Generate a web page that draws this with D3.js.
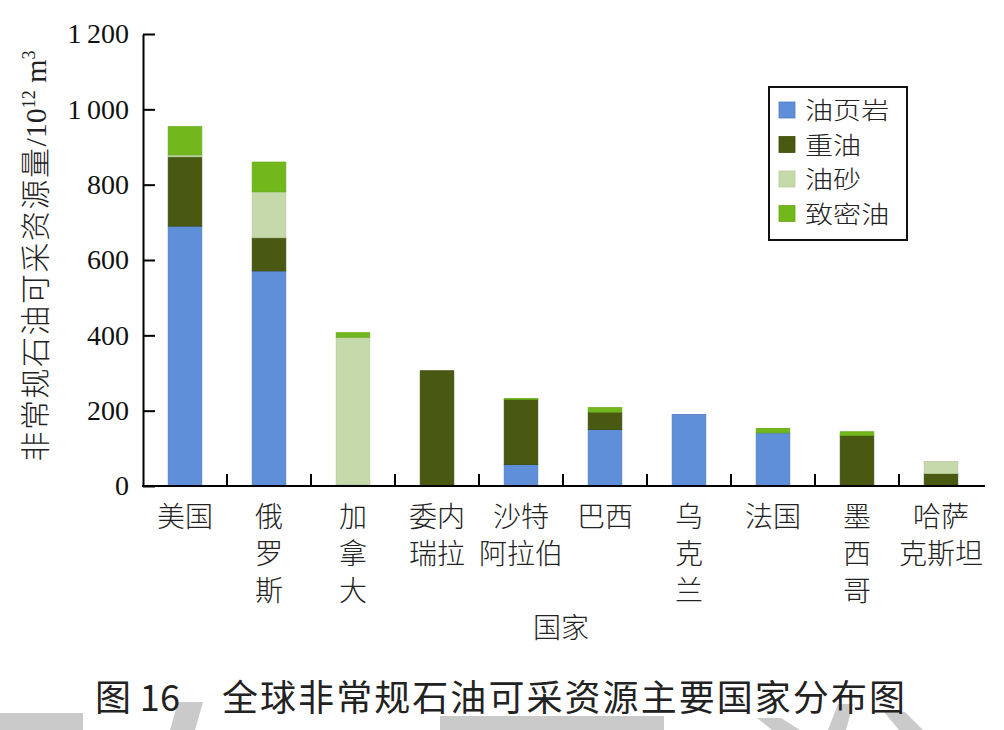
<!DOCTYPE html>
<html><head><meta charset="utf-8">
<script src="https://cdn.jsdelivr.net/npm/d3@7"></script>
<style>
html,body{margin:0;padding:0;background:#fff;}
svg{display:block;}
</style></head>
<body>
<script>
const countries = ["美国","俄罗斯","加拿大","委内瑞拉","沙特阿拉伯","巴西","乌克兰","法国","墨西哥","哈萨克斯坦"];
const countryLines = [["美国"],["俄","罗","斯"],["加","拿","大"],["委内","瑞拉"],["沙特","阿拉伯"],["巴西"],["乌","克","兰"],["法国"],["墨","西","哥"],["哈萨","克斯坦"]];
const seriesNames = ["油页岩","重油","油砂","致密油"];
const shale = [690,571,3,0,57,150,190,141,0,0];
const heavy = [184,88,0,306,173,46,0,0,134,33];
const sand  = [5,122,392,0,0,0,0,0,0,32];
const tight = [75,79,12,0,2,12,0,12,10,0];
const yTicks = [0,200,400,600,800,1000,1200];
const colors = ["#5f8fd9","#4a5912","#c6d9aa","#72b81c"];
const strokes = ["#4f7cc2","#3c4a0c","#b8cc9c","#66a818"];

const W=1004,H=730;
const svg=d3.select("body").append("svg").attr("width",W).attr("height",H);

// faint watermark shapes at the bottom edge (decorative)
const wm=svg.append("g").attr("fill","#cacaca");
[[[0,713],[83,713],[83,730],[0,730]],
 [[178,702],[203,702],[195,730],[170,730]],
 [[440,716],[664,716],[664,730],[440,730]],
 [[757,718],[781,718],[800,730],[772,730]],
 [[838,704],[853,704],[846,730],[828,730]],
 [[884,712],[905,712],[923,730],[899,730]]
].forEach(p=>wm.append("polygon").attr("points",p.map(q=>q.join(",")).join(" ")));

const x=d3.scaleBand().domain(countries).range([143,983]).paddingInner(0.6).paddingOuter(0.3);
const y=d3.scaleLinear().domain([0,1200]).range([486,34]);

const table=countries.map((c,i)=>({country:c,"油页岩":shale[i],"重油":heavy[i],"油砂":sand[i],"致密油":tight[i]}));
const stack=d3.stack().keys(seriesNames)(table);

svg.append("g").selectAll("g").data(stack).join("g")
  .attr("fill",(d,i)=>colors[i]).attr("stroke",(d,i)=>strokes[i]).attr("stroke-width",0.8)
  .selectAll("rect").data(d=>d.filter(p=>p[1]-p[0]>0)).join("rect")
  .attr("x",d=>x(d.data.country)).attr("width",x.bandwidth())
  .attr("y",d=>y(d[1])).attr("height",d=>y(d[0])-y(d[1]));

// Y axis
const fmt=v=>{const s=String(v);return s.length>3? s.slice(0,s.length-3)+"\u2009"+s.slice(-3):s;};
const ya=svg.append("g").attr("transform","translate(143,0)")
  .call(d3.axisLeft(y).tickValues(yTicks).tickFormat(fmt).tickSizeInner(-12).tickSizeOuter(0).tickPadding(14));
ya.select(".domain").attr("stroke","#000").attr("stroke-width",2);
ya.selectAll(".tick line").attr("stroke","#000").attr("stroke-width",2);
ya.selectAll(".tick text").attr("font-family","'Liberation Serif',serif").attr("font-size",28).attr("fill","#111");

// X axis
const xa=svg.append("g").attr("transform","translate(0,486)");
xa.append("line").attr("x1",142).attr("x2",985).attr("y1",0).attr("y2",0).attr("stroke","#000").attr("stroke-width",2);
xa.selectAll("line.tk").data(d3.range(1,countries.length)).join("line").attr("class","tk")
  .attr("x1",i=>x.range()[0]+x.step()*i).attr("x2",i=>x.range()[0]+x.step()*i)
  .attr("y1",0).attr("y2",-12).attr("stroke","#000").attr("stroke-width",2);

const lab=svg.append("g").attr("font-family","'Noto Sans CJK SC',sans-serif").attr("font-size",28).attr("fill","#222").attr("font-weight",300);
countries.forEach((c,i)=>{
  countryLines[i].forEach((ln,j)=>{
    lab.append("text").attr("x",x(c)+x.bandwidth()/2).attr("y",527+j*37).attr("text-anchor","middle").text(ln);
  });
});

// axis titles
svg.append("text").attr("x",561).attr("y",638).attr("text-anchor","middle")
  .attr("font-family","'Noto Sans CJK SC',sans-serif").attr("font-size",28).attr("font-weight",300).attr("fill","#222").text("国家");

const yt=svg.append("text").attr("transform","translate(46,256) rotate(-90)").attr("text-anchor","middle")
  .attr("fill","#222");
yt.append("tspan").attr("font-family","'Noto Sans CJK SC',sans-serif").attr("font-size",30).attr("font-weight",300).attr("letter-spacing",1.5).text("非常规石油可采资源量");
yt.append("tspan").attr("font-family","'Liberation Serif',serif").attr("font-size",30).text("/10");
yt.append("tspan").attr("font-family","'Liberation Serif',serif").attr("font-size",18).attr("dy",-11).text("12");
yt.append("tspan").attr("font-family","'Liberation Serif',serif").attr("font-size",30).attr("dy",11).text(" m");
yt.append("tspan").attr("font-family","'Liberation Serif',serif").attr("font-size",18).attr("dy",-11).text("3");

// legend
const lg=svg.append("g").attr("transform","translate(769,87)");
lg.append("rect").attr("width",138).attr("height",153).attr("fill","#fff").attr("stroke","#111").attr("stroke-width",2);
seriesNames.forEach((s,i)=>{
  const g=lg.append("g").attr("transform",`translate(10,${23+i*34.5})`);
  g.append("rect").attr("x",0).attr("y",-8).attr("width",16).attr("height",16).attr("fill",colors[i]).attr("stroke",strokes[i]).attr("stroke-width",0.8);
  g.append("text").attr("transform","translate(26,9) scale(1.17,1)").attr("font-family","'Noto Sans CJK SC',sans-serif").attr("font-size",24).attr("font-weight",300).attr("fill","#222").text(s);
});

// caption
const capG=svg.append("g").attr("font-family","'Noto Sans CJK SC',sans-serif").attr("font-size",36).attr("font-weight",400).attr("fill","#222");
capG.append("text").attr("x",95).attr("y",711).attr("textLength",85).attr("lengthAdjust","spacing").text("图 16");
capG.append("text").attr("x",222).attr("y",711).attr("textLength",683).attr("lengthAdjust","spacing").text("全球非常规石油可采资源主要国家分布图");
</script>
</body></html>
